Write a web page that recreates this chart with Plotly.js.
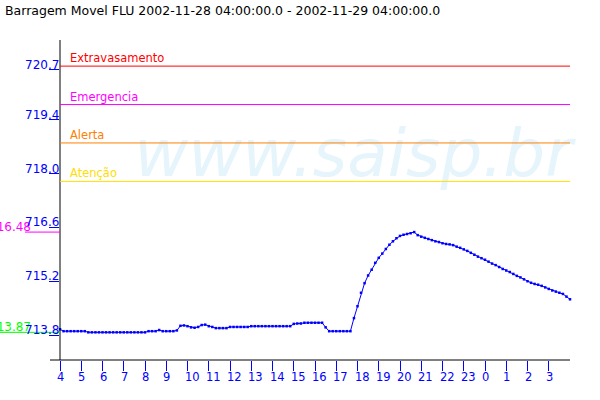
<!DOCTYPE html>
<html>
<head>
<meta charset="utf-8">
<script src="https://cdn.plot.ly/plotly-3.0.1.min.js"></script>
<style>html,body{margin:0;padding:0;background:#fff;}#chart{width:600px;height:400px;}</style>
</head>
<body>
<div id="chart"></div>
<script>
const chartTitle = 'Barragem Movel FLU 2002-11-28 04:00:00.0 - 2002-11-29 04:00:00.0';
const startTime = [2002, 11, 28, 4, 0];
const stepMinutes = 10;
const levels = [
  713.95, 713.90, 713.90, 713.90, 713.90, 713.90, 713.90, 713.90, 713.87, 713.87,
  713.87, 713.87, 713.87, 713.87, 713.87, 713.87, 713.87, 713.87, 713.87, 713.87,
  713.87, 713.87, 713.87, 713.87, 713.87, 713.90, 713.90, 713.90, 713.93, 713.90,
  713.90, 713.90, 713.90, 713.92, 714.04, 714.05, 714.03, 714.00, 713.99, 714.01,
  714.06, 714.07, 714.03, 714.01, 713.98, 713.98, 713.98, 713.98, 714.01, 714.01,
  714.01, 714.01, 714.01, 714.01, 714.03, 714.03, 714.03, 714.03, 714.03, 714.03,
  714.03, 714.03, 714.03, 714.03, 714.03, 714.03, 714.09, 714.10, 714.10, 714.12,
  714.12, 714.12, 714.12, 714.12, 714.12, 714.00, 713.90, 713.90, 713.90, 713.90,
  713.90, 713.90, 713.90, 714.24, 714.55, 714.90, 715.15, 715.35, 715.50, 715.68,
  715.81, 715.92, 716.04, 716.15, 716.24, 716.32, 716.38, 716.41, 716.43, 716.45,
  716.48, 716.40, 716.36, 716.33, 716.30, 716.27, 716.24, 716.22, 716.19, 716.17,
  716.16, 716.14, 716.10, 716.07, 716.03, 715.99, 715.94, 715.89, 715.84, 715.80,
  715.76, 715.71, 715.66, 715.62, 715.57, 715.52, 715.48, 715.44, 715.39, 715.34,
  715.30, 715.25, 715.20, 715.16, 715.13, 715.11, 715.08, 715.04, 715.00, 714.96,
  714.93, 714.90, 714.87, 714.80, 714.73
];
const xTickText = ['4','5','6','7','8','9','10','11','12','13','14','15','16','17','18','19','20','21','22','23','0','1','2','3'];
const yTickVals = [713.8, 715.2, 716.6, 718.0, 719.4, 720.7];
const yTickText = ['713.8', '715.2', '716.6', '718.0', '719.4', '720.7'];
const yRange = [713.15, 721.48];
const thresholdNames = ['Extravasamento', 'Emergencia', 'Alerta', 'Atenção'];
const thresholdValues = [720.8, 719.8, 718.8, 717.8];
const thresholdColors = ['#ff0000', '#ff00ff', '#ff8000', '#ffdd00'];
const maxValue = 716.48, maxLabel = '716.48';
const minValue = 713.87, minLabel = '713.87';
const watermarkText = 'www.saisp.br';

const FONT = 'DejaVu Sans';
const BLUE = '#0000ff';
const W = 600, H = 400, M = {l: 60, r: 30, t: 40, b: 40};
const PW = W - M.l - M.r;

function pad(n) { return (n < 10 ? '0' : '') + n; }
function fmt(ms) {
  const d = new Date(ms);
  return d.getUTCFullYear() + '-' + pad(d.getUTCMonth() + 1) + '-' + pad(d.getUTCDate()) + ' ' + pad(d.getUTCHours()) + ':' + pad(d.getUTCMinutes());
}
const t0 = Date.UTC(startTime[0], startTime[1] - 1, startTime[2], startTime[3], startTime[4]);
const times = levels.map((_, i) => fmt(t0 + i * stepMinutes * 60000));
const xEnd = fmt(t0 + 24 * 3600000);
const xTickVals = xTickText.map((_, k) => fmt(t0 + k * 3600000));

const data = [
  {
    x: [0.575], y: [0.627], xaxis: 'x2', yaxis: 'y2',
    mode: 'text', text: [watermarkText], textposition: 'middle center',
    textfont: {family: FONT, size: 66, color: '#e6f4fc', style: 'italic'},
    cliponaxis: false, hoverinfo: 'skip', showlegend: false
  },
  {
    x: times, y: levels, type: 'scatter', mode: 'lines+markers',
    line: {color: BLUE, width: 1},
    marker: {color: BLUE, size: 2.5, symbol: 'square'},
    cliponaxis: false, showlegend: false
  }
];

const shapes = [];
const annotations = [];
// axis lines
shapes.push({type: 'line', xref: 'paper', yref: 'paper', x0: -10 / PW, x1: 1, y0: 0, y1: 0, line: {color: '#000', width: 1}});
shapes.push({type: 'line', xref: 'paper', yref: 'paper', x0: 0, x1: 0, y0: 0, y1: 1, line: {color: '#000', width: 1}});
// thresholds
thresholdValues.forEach((v, i) => {
  shapes.push({type: 'line', xref: 'paper', yref: 'y', x0: 0, x1: 1, y0: v, y1: v, line: {color: thresholdColors[i], width: 1}});
  annotations.push({xref: 'paper', yref: 'y', x: 8 / PW, y: v, xanchor: 'left', yanchor: 'bottom',
    text: thresholdNames[i], showarrow: false, font: {family: FONT, size: 11.5, color: thresholdColors[i]}, yshift: -1});
});
// max/min markers
shapes.push({type: 'line', xref: 'paper', yref: 'y', x0: -35 / PW, x1: 0, y0: maxValue, y1: maxValue, line: {color: '#ff00ff', width: 1}});
shapes.push({type: 'line', xref: 'paper', yref: 'y', x0: -60 / PW, x1: 0, y0: minValue, y1: minValue, line: {color: '#00ff00', width: 1}});
annotations.push({xref: 'paper', yref: 'y', x: -27 / PW, y: maxValue, xanchor: 'right', yanchor: 'bottom', text: maxLabel,
  showarrow: false, font: {family: FONT, size: 12, color: '#ff00ff'}, yshift: -4});
annotations.push({xref: 'paper', yref: 'y', x: -27 / PW, y: minValue, xanchor: 'right', yanchor: 'bottom', text: minLabel,
  showarrow: false, font: {family: FONT, size: 12, color: '#00ff00'}, yshift: -4});
// y tick labels
yTickVals.forEach((v, i) => {
  annotations.push({xref: 'paper', yref: 'y', x: 0, y: v, xanchor: 'right', yanchor: 'bottom', text: yTickText[i],
    showarrow: false, font: {family: FONT, size: 12, color: BLUE}, xshift: 1, yshift: -4});
});
// x tick labels (left-aligned just before each tick)
xTickVals.forEach((v, i) => {
  annotations.push({xref: 'x', yref: 'paper', x: v, y: 0, xanchor: 'left', yanchor: 'top', text: xTickText[i],
    showarrow: false, font: {family: FONT, size: 11.5, color: BLUE}, xshift: -5, yshift: -8});
});

const layout = {
  width: W, height: H, margin: M,
  paper_bgcolor: '#fff', plot_bgcolor: '#fff',
  title: {text: chartTitle, font: {family: FONT, size: 12.5, color: '#000'}, x: 5 / W, xanchor: 'left', xref: 'container',
    y: 0.984, yanchor: 'top', yref: 'container', pad: {t: 0, b: 0, l: 0, r: 0}},
  showlegend: false,
  xaxis: {
    type: 'date', range: [times[0], xEnd], tickmode: 'array', tickvals: xTickVals, ticktext: xTickText,
    ticks: 'outside', ticklen: 10, tickcolor: BLUE, tickwidth: 1, showticklabels: false,
    showgrid: false, zeroline: false, showline: false
  },
  yaxis: {
    range: yRange, tickmode: 'array', tickvals: yTickVals, ticktext: yTickText,
    ticks: 'outside', ticklen: 10, tickcolor: BLUE, tickwidth: 1, showticklabels: false,
    showgrid: false, zeroline: false, showline: false
  },
  xaxis2: {overlaying: 'x', range: [0, 1], visible: false},
  yaxis2: {overlaying: 'y', range: [0, 1], visible: false},
  shapes: shapes,
  annotations: annotations
};

Plotly.newPlot('chart', data, layout, {staticPlot: true, displayModeBar: false});
</script>
</body>
</html>
